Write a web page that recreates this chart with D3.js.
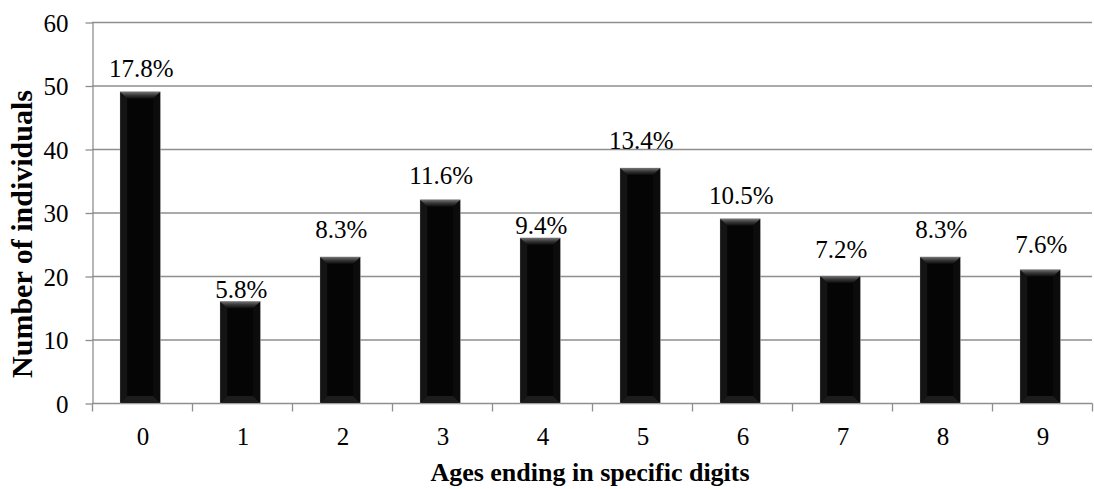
<!DOCTYPE html>
<html>
<head>
<meta charset="utf-8">
<script src="https://cdn.jsdelivr.net/npm/d3@7"></script>
<style>
  html, body { margin: 0; padding: 0; background: #fff; }
  svg { display: block; }
  text { font-family: "Liberation Serif", "Times New Roman", serif; fill: #000; }
</style>
</head>
<body>
<svg id="chart" width="1094" height="489"></svg>
<script>
// Final digit of reported age
const digits = ["0", "1", "2", "3", "4", "5", "6", "7", "8", "9"];
// Number of individuals whose age ends in each digit
const counts = [49, 16, 23, 32, 26, 37, 29, 20, 23, 21];
// Y axis ticks
const yTicks = [0, 10, 20, 30, 40, 50, 60];
// Gap (px) between each percentage label and its bar top
const labelGap = [15, 3, 19, 16, 4, 19, 15, 18, 19, 17];

const total = d3.sum(counts);
const pctLabels = counts.map(v => (v / total * 100).toFixed(1) + "%");

const svg = d3.select("#chart");
const plot = { left: 92, right: 1092, top: 22, bottom: 403 };
const gridColor = "#8e8e8e";

const x = d3.scaleBand()
  .domain(digits)
  .range([plot.left, plot.right])
  .paddingInner(0.6)
  .paddingOuter(0.3)
  .align(0.47);

const y = d3.scaleLinear()
  .domain([0, 60])
  .range([plot.bottom, plot.top]);

// gradient for the bevelled top face of each bar
const defs = svg.append("defs");
const topGrad = defs.append("linearGradient").attr("id", "bevelTop")
  .attr("x1", 0).attr("y1", 0).attr("x2", 0).attr("y2", 1);
topGrad.append("stop").attr("offset", 0).attr("stop-color", "#747474");
topGrad.append("stop").attr("offset", 0.45).attr("stop-color", "#3a3a3a");
topGrad.append("stop").attr("offset", 1).attr("stop-color", "#0a0a0a");

// horizontal gridlines
svg.append("g")
  .selectAll("line")
  .data(yTicks.filter(t => t > 0))
  .join("line")
  .attr("x1", plot.left).attr("x2", plot.right)
  .attr("y1", d => y(d) + 0.5).attr("y2", d => y(d) + 0.5)
  .attr("stroke", gridColor).attr("stroke-width", 1.3);

// y axis
const yAxis = svg.append("g")
  .attr("transform", `translate(${plot.left + 0.5},0.5)`)
  .call(d3.axisLeft(y).tickValues(yTicks).tickSize(7).tickPadding(17).tickSizeOuter(0));
yAxis.attr("font-family", null).attr("font-size", null);
yAxis.select(".domain").attr("stroke", gridColor).attr("stroke-width", 1.3);
yAxis.selectAll(".tick line").attr("stroke", gridColor).attr("stroke-width", 1.3);
yAxis.selectAll(".tick text")
  .attr("font-size", 25).attr("fill", "#000").attr("dy", "0.34em");

// x axis: ticks sit on category boundaries
const bounds = d3.range(digits.length + 1).map(i => plot.left + i * x.step());
const xAxis = svg.append("g").attr("transform", `translate(0.5,${plot.bottom + 0.5})`);
xAxis.append("line")
  .attr("x1", plot.left).attr("x2", plot.right)
  .attr("stroke", gridColor).attr("stroke-width", 1.3);
xAxis.selectAll("line.tick")
  .data(bounds)
  .join("line")
  .attr("class", "tick")
  .attr("x1", d => d).attr("x2", d => d)
  .attr("y1", 0).attr("y2", 8)
  .attr("stroke", gridColor).attr("stroke-width", 1.3);
svg.append("g").selectAll("text")
  .data(digits)
  .join("text")
  .attr("x", (d, i) => plot.left + i * x.step() + x.step() / 2 + 1)
  .attr("y", 445)
  .attr("text-anchor", "middle")
  .attr("font-size", 25)
  .text(d => d);

// bars with a bevelled look
const bars = svg.append("g").selectAll("g.bar")
  .data(digits.map((d, i) => ({ digit: d, value: counts[i], label: pctLabels[i], gap: labelGap[i] })))
  .join("g").attr("class", "bar");

const bev = 7;
bars.append("rect")
  .attr("x", d => x(d.digit))
  .attr("y", d => y(d.value))
  .attr("width", x.bandwidth())
  .attr("height", d => y(0) - y(d.value))
  .attr("fill", "#050505")
  .attr("stroke", "#c4c4c4").attr("stroke-width", 0.7);
// left edge
bars.append("path")
  .attr("d", d => {
    const x0 = x(d.digit), y0 = y(d.value), y1 = y(0);
    return `M${x0},${y0}L${x0 + bev},${y0 + bev}L${x0 + bev},${y1 - bev}L${x0},${y1}Z`;
  })
  .attr("fill", "#141414");
// right edge
bars.append("path")
  .attr("d", d => {
    const x1 = x(d.digit) + x.bandwidth(), y0 = y(d.value), y1 = y(0);
    return `M${x1},${y0}L${x1 - bev},${y0 + bev}L${x1 - bev},${y1 - bev}L${x1},${y1}Z`;
  })
  .attr("fill", "#0c0c0c");
// bottom edge
bars.append("path")
  .attr("d", d => {
    const x0 = x(d.digit), x1 = x0 + x.bandwidth(), y1 = y(0);
    return `M${x0},${y1}L${x0 + bev},${y1 - bev}L${x1 - bev},${y1 - bev}L${x1},${y1}Z`;
  })
  .attr("fill", "#1c1c1c");
// top edge highlight
bars.append("path")
  .attr("d", d => {
    const x0 = x(d.digit), x1 = x0 + x.bandwidth(), y0 = y(d.value);
    return `M${x0},${y0}L${x1},${y0}L${x1 - bev},${y0 + bev}L${x0 + bev},${y0 + bev}Z`;
  })
  .attr("fill", "url(#bevelTop)");

// percentage labels above bars
bars.append("text")
  .attr("x", d => x(d.digit) + x.bandwidth() / 2 + 1)
  .attr("y", d => y(d.value) - d.gap)
  .attr("text-anchor", "middle")
  .attr("font-size", 25)
  .text(d => d.label);

// axis titles
svg.append("text")
  .attr("x", 590).attr("y", 481)
  .attr("text-anchor", "middle")
  .attr("font-size", 26).attr("font-weight", "bold")
  .text("Ages ending in specific digits");

svg.append("text")
  .attr("transform", "translate(32,234) rotate(-90)")
  .attr("text-anchor", "middle")
  .attr("font-size", 30).attr("font-weight", "bold")
  .text("Number of individuals");
</script>
</body>
</html>
